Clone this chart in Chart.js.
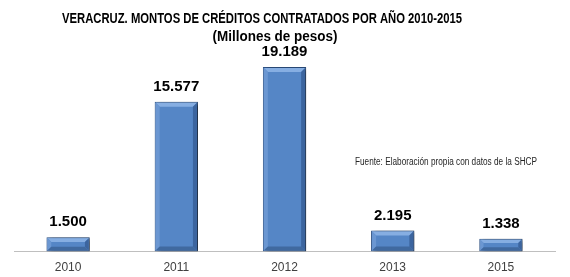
<!DOCTYPE html>
<html>
<head>
<meta charset="utf-8">
<script src="https://cdn.jsdelivr.net/npm/chart.js@4"></script>
<style>
  html, body { margin: 0; padding: 0; background: #fff; }
  #wrap { width: 570px; height: 277px; position: relative; }
</style>
</head>
<body>
<div id="wrap"><canvas id="chart"></canvas></div>
<script>
// Data (millones de pesos)
const years = ["2010", "2011", "2012", "2013", "2015"];
const montos = [1500, 15577, 19189, 2195, 1338];

const titleLines = [
  "VERACRUZ. MONTOS DE CRÉDITOS CONTRATADOS POR AÑO 2010-2015",
  "(Millones de pesos)",
];
const sourceNote = "Fuente: Elaboración propia con datos de la SHCP";

const SANS = '"Liberation Sans", Arial, sans-serif';

// 1.500 style grouping
function fmt(n) {
  return String(Math.round(n)).replace(/\B(?=(\d{3})+(?!\d))/g, ".");
}

// text squeezed to the width of the original (Calibri is narrower than what we have)
function fitText(ctx, str, cx, cy, w) {
  const m = ctx.measureText(str).width;
  const k = Math.min(1, w / m);
  ctx.save();
  ctx.translate(cx, cy);
  ctx.scale(k, 1);
  ctx.textAlign = "center";
  ctx.fillText(str, 0, 0);
  ctx.restore();
}

// drop shadow under the bars
const barShadow = {
  id: "barShadow",
  beforeDatasetsDraw(chart) {
    const ctx = chart.ctx;
    ctx.save();
    ctx.shadowColor = "rgba(0,0,0,0.6)";
    ctx.shadowBlur = 4;
    ctx.shadowOffsetX = 3;
    ctx.shadowOffsetY = 1;
  },
  afterDatasetsDraw(chart) {
    chart.ctx.restore();
  },
};

// bevel highlights + value labels on top of each bar
const barBevel = {
  id: "barBevel",
  afterDatasetsDraw(chart) {
    const ctx = chart.ctx;
    const meta = chart.getDatasetMeta(0);
    meta.data.forEach((bar, i) => {
      const l = bar.x - bar.width / 2;
      const r = bar.x + bar.width / 2;
      const t = bar.y;
      const b = bar.base;
      const e = Math.min(5, (b - t) / 3);
      ctx.save();
      // top facet
      ctx.fillStyle = "#86aee2";
      ctx.beginPath();
      ctx.moveTo(l + 1, t + 1);
      ctx.lineTo(r - 1, t + 1);
      ctx.lineTo(r - e, t + e);
      ctx.lineTo(l + e, t + e);
      ctx.closePath();
      ctx.fill();
      // left facet
      ctx.fillStyle = "#6b97d2";
      ctx.beginPath();
      ctx.moveTo(l + 1, t + 1);
      ctx.lineTo(l + e, t + e);
      ctx.lineTo(l + e, b - e);
      ctx.lineTo(l + 1, b - 1);
      ctx.closePath();
      ctx.fill();
      // right facet
      ctx.fillStyle = "#3c659f";
      ctx.beginPath();
      ctx.moveTo(r - 1, t + 1);
      ctx.lineTo(r - e, t + e);
      ctx.lineTo(r - e, b - e);
      ctx.lineTo(r - 1, b - 1);
      ctx.closePath();
      ctx.fill();
      // bottom facet
      ctx.fillStyle = "#40699f";
      ctx.beginPath();
      ctx.moveTo(l + 1, b - 1);
      ctx.lineTo(r - 1, b - 1);
      ctx.lineTo(r - e, b - e);
      ctx.lineTo(l + e, b - e);
      ctx.closePath();
      ctx.fill();
      ctx.restore();

      // value label
      ctx.save();
      ctx.font = "bold 15px " + SANS;
      ctx.fillStyle = "#000";
      ctx.textAlign = "center";
      ctx.textBaseline = "middle";
      ctx.fillText(fmt(montos[i]), bar.x, t - 15);
      ctx.restore();
    });
  },
};

// header lines and source note, placed like the original text boxes
const textBoxes = {
  id: "textBoxes",
  afterDraw(chart) {
    const ctx = chart.ctx;
    ctx.save();
    ctx.fillStyle = "#000";
    ctx.textBaseline = "middle";
    ctx.font = "bold 14px " + SANS;
    fitText(ctx, titleLines[0], 262, 19, 400);
    fitText(ctx, titleLines[1], 275, 37, 125);
    ctx.font = "10px " + SANS;
    ctx.fillStyle = "#262626";
    fitText(ctx, sourceNote, 446, 162, 182);
    ctx.restore();
  },
};

new Chart(document.getElementById("chart"), {
  type: "bar",
  data: {
    labels: years,
    datasets: [{
      data: montos,
      backgroundColor: "#5586c6",
      borderColor: "#2e5387",
      borderWidth: 1,
      borderSkipped: false,
      categoryPercentage: 1,
      barPercentage: 0.4,
    }],
  },
  options: {
    responsive: true,
    maintainAspectRatio: false,
    animation: false,
    layout: { padding: { top: 40, left: 14, right: 15, bottom: -7 } },
    plugins: {
      legend: { display: false },
      tooltip: { enabled: false },
      title: { display: false },
    },
    scales: {
      x: {
        grid: { display: true, drawOnChartArea: false, drawTicks: false },
        border: { display: true, color: "#bfbfbf", width: 1 },
        ticks: {
          padding: 9,
          color: "#404040",
          font: { family: SANS, size: 12 },
        },
      },
      y: {
        display: false,
        min: 0,
        max: 22000,
      },
    },
  },
  plugins: [barShadow, barBevel, textBoxes],
});
</script>
</body>
</html>
